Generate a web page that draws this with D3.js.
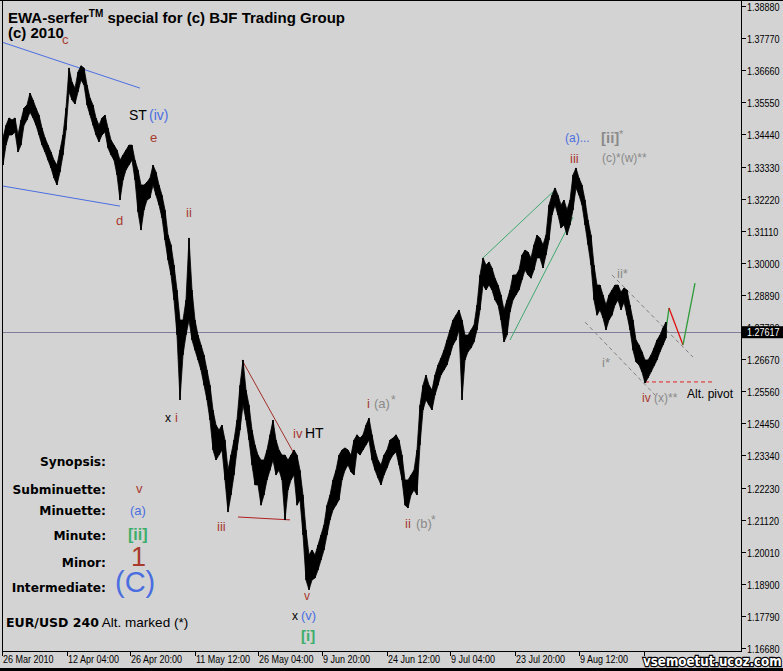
<!DOCTYPE html>
<html><head><meta charset="utf-8">
<script src="https://cdn.jsdelivr.net/npm/d3@7/dist/d3.min.js"></script>
<style>
html,body{margin:0;padding:0;background:#d3d3d3;}
svg{display:block;}
</style></head><body>
<svg id="c" width="783" height="671"></svg>
<script>
// ---------- DATA ----------
const priceTicks = [1.38880,1.37770,1.36660,1.35550,1.34440,1.33330,1.32220,1.31110,1.30000,1.28890,1.27780,1.26670,1.25560,1.24450,1.23340,1.22230,1.21120,1.20010,1.18900,1.17790,1.16680];
const timeTickIdx = [0,65,128,193,256,320,385,448,513,577,642];
const timeTickLabels = ["26 Mar 2010","12 Apr 04:00","26 Apr 20:00","11 May 12:00","26 May 04:00","9 Jun 20:00","24 Jun 12:00","9 Jul 04:00","23 Jul 20:00","9 Aug 12:00",""];
const currentPrice = 1.27617;
const barStep = 3; // one sampled bar every 3 bars
const highs = [1.3432,1.3476,1.3501,1.3494,1.3501,1.3442,1.3494,1.3535,1.3546,1.3587,1.3563,1.3535,1.3511,1.3466,1.3432,1.3407,1.3383,1.3355,1.3338,1.3390,1.3442,1.3535,1.3674,1.3625,1.3604,1.3660,1.3681,1.3674,1.3615,1.3570,1.3546,1.3501,1.3476,1.3501,1.3511,1.3466,1.3425,1.3407,1.3390,1.3355,1.3373,1.3390,1.3407,1.3407,1.3355,1.3321,1.3269,1.3269,1.3279,1.3293,1.3338,1.3314,1.3269,1.3234,1.3183,1.3096,1.3062,1.2992,1.2906,1.2802,1.2802,1.2871,1.3086,1.2906,1.2802,1.2750,1.2716,1.2681,1.2629,1.2577,1.2491,1.2439,1.2422,1.2439,1.2387,1.2283,1.2335,1.2387,1.2456,1.2577,1.2664,1.2560,1.2508,1.2422,1.2370,1.2335,1.2318,1.2318,1.2353,1.2405,1.2456,1.2387,1.2353,1.2335,1.2335,1.2318,1.2335,1.2353,1.2335,1.2283,1.2197,1.2076,1.1990,1.2007,1.1990,1.2024,1.2059,1.2093,1.2162,1.2197,1.2249,1.2283,1.2335,1.2353,1.2360,1.2353,1.2335,1.2387,1.2405,1.2394,1.2405,1.2439,1.2463,1.2405,1.2353,1.2318,1.2301,1.2335,1.2353,1.2387,1.2394,1.2405,1.2387,1.2335,1.2249,1.2249,1.2266,1.2283,1.2353,1.2508,1.2577,1.2612,1.2577,1.2560,1.2612,1.2647,1.2671,1.2698,1.2733,1.2768,1.2802,1.2819,1.2837,1.2802,1.2750,1.2750,1.2768,1.2785,1.2854,1.2958,1.3017,1.2992,1.3003,1.2982,1.2947,1.2923,1.2889,1.2837,1.2871,1.2906,1.2958,1.2958,1.2975,1.3027,1.3044,1.3037,1.3017,1.3062,1.3096,1.3086,1.3062,1.3096,1.3200,1.3234,1.3259,1.3234,1.3200,1.3217,1.3183,1.3217,1.3304,1.3328,1.3293,1.3269,1.3217,1.3148,1.3096,1.2992,1.2923,1.2923,1.2889,1.2854,1.2889,1.2906,1.2923,1.2923,1.2899,1.2913,1.2906,1.2854,1.2802,1.2733,1.2716,1.2692,1.2664,1.2664,1.2681,1.2705,1.2733,1.2750,1.2775,1.2795];
const lows = [1.3338,1.3407,1.3442,1.3442,1.3452,1.3383,1.3407,1.3476,1.3494,1.3521,1.3501,1.3476,1.3442,1.3407,1.3383,1.3355,1.3328,1.3293,1.3269,1.3314,1.3373,1.3459,1.3591,1.3563,1.3549,1.3591,1.3632,1.3615,1.3546,1.3511,1.3476,1.3442,1.3418,1.3442,1.3452,1.3397,1.3373,1.3355,1.3304,1.3217,1.3286,1.3321,1.3338,1.3355,1.3286,1.3176,1.3113,1.3183,1.3217,1.3224,1.3269,1.3234,1.3200,1.3155,1.3079,1.3010,1.2958,1.2871,1.2750,1.2526,1.2681,1.2750,1.2802,1.2733,1.2698,1.2664,1.2629,1.2577,1.2526,1.2456,1.2353,1.2318,1.2335,1.2353,1.2249,1.2138,1.2197,1.2266,1.2353,1.2422,1.2508,1.2456,1.2387,1.2301,1.2232,1.2232,1.2162,1.2197,1.2249,1.2283,1.2318,1.2266,1.2283,1.2249,1.2111,1.2214,1.2249,1.2266,1.2162,1.2180,1.2059,1.1903,1.1869,1.1903,1.1910,1.1938,1.1972,1.2007,1.2059,1.2111,1.2145,1.2162,1.2180,1.2249,1.2283,1.2301,1.2277,1.2266,1.2346,1.2335,1.2353,1.2370,1.2387,1.2318,1.2283,1.2256,1.2232,1.2266,1.2290,1.2318,1.2335,1.2346,1.2301,1.2249,1.2162,1.2152,1.2197,1.2214,1.2197,1.2370,1.2491,1.2526,1.2508,1.2491,1.2543,1.2577,1.2612,1.2629,1.2647,1.2681,1.2716,1.2733,1.2768,1.2526,1.2664,1.2692,1.2705,1.2726,1.2768,1.2837,1.2923,1.2906,1.2923,1.2906,1.2871,1.2854,1.2802,1.2726,1.2750,1.2830,1.2871,1.2889,1.2906,1.2941,1.2975,1.2958,1.2947,1.2975,1.3017,1.3017,1.2982,1.3027,1.3079,1.3165,1.3200,1.3165,1.3120,1.3131,1.3096,1.3131,1.3183,1.3259,1.3234,1.3200,1.3131,1.3062,1.2992,1.2871,1.2819,1.2837,1.2809,1.2768,1.2802,1.2819,1.2854,1.2871,1.2837,1.2864,1.2819,1.2768,1.2698,1.2657,1.2647,1.2622,1.2584,1.2602,1.2622,1.2643,1.2664,1.2692,1.2716,1.2740];

// trend / channel lines: [idx0, price0, idx1, price1]
const blueUpper = [0,1.3763,138,1.3604];
const blueLower = [0,1.3266,118,1.3196];
const htUpper = [240,1.2664,294,1.2328];
const htLower = [236,1.2121,288,1.2111];
const greenUpper = [481,1.3017,553,1.3252];
const greenLower = [508,1.2733,571,1.3158];
const dashUpper = [610,1.2958,691,1.2674];
const dashLower = [583,1.2795,655,1.2536];
const pivotLine = [643,1.2588,712,1.2588];
const projGreen1 = [664,1.2768,667,1.2844];
const projRed = [667,1.2844,681,1.2716];
const projGreen2 = [681,1.2716,693,1.2930];

// ---------- DRAW ----------
const svg = d3.select("#c");
const W = 783, H = 671;
const plotL = 2, plotR = 741, plotB = 651;
const x = d3.scaleLinear().domain([0,739]).range([2,741]);
const y = d3.scaleLinear().domain([1.1668,1.3888]).range([648,6]);

svg.append("rect").attr("width",W).attr("height",H).attr("fill","#d3d3d3");

// current price line
svg.append("line").attr("x1",plotL).attr("x2",plotR)
  .attr("y1",Math.round(y(currentPrice))+0.5).attr("y2",Math.round(y(currentPrice))+0.5)
  .attr("stroke","#7d7d9a").attr("stroke-width",1);

function seg(a, color, dash, w){
  svg.append("line").attr("x1",x(a[0])).attr("y1",y(a[1])).attr("x2",x(a[2])).attr("y2",y(a[3]))
    .attr("stroke",color).attr("stroke-width",w||1).attr("stroke-dasharray",dash||null);
}
seg(blueUpper,"#4a6ee0");
seg(blueLower,"#4a6ee0");
seg(htUpper,"#a0302a");
seg(htLower,"#b02020");
seg(greenUpper,"#3fa870");
seg(greenLower,"#3fa870");
seg(dashUpper,"#808080","4,3");
seg(dashLower,"#808080","4,3");
seg(pivotLine,"#e02020","4,3");
seg(projGreen1,"#2f9a3a",null,1.3);
seg(projRed,"#e01010",null,1.3);
seg(projGreen2,"#2f9a3a",null,1.3);

// price band (high-low bars)
const bars = highs.map((h,i)=>({i:1+i*barStep, h:h, l:lows[i]}));
const band = d3.area().x(d=>x(d.i)).y0(d=>y(d.l)).y1(d=>y(d.h)).curve(d3.curveLinear);
svg.append("path").datum(bars).attr("d",band).attr("fill","#000").attr("stroke","#000").attr("stroke-width",0.8);
svg.append("g").selectAll("line").data(bars).join("line")
  .attr("x1",d=>x(d.i)).attr("x2",d=>x(d.i))
  .attr("y1",d=>y(d.h)).attr("y2",d=>y(d.l))
  .attr("stroke","#000").attr("stroke-width",1.5);

// frame
svg.append("line").attr("x1",2.5).attr("x2",2.5).attr("y1",0).attr("y2",plotB).attr("stroke","#000");
svg.append("line").attr("x1",0).attr("x2",W).attr("y1",0.5).attr("y2",0.5).attr("stroke","#000");
svg.append("line").attr("x1",plotR+0.5).attr("x2",plotR+0.5).attr("y1",0).attr("y2",plotB).attr("stroke","#000");
svg.append("line").attr("x1",2).attr("x2",plotR+1).attr("y1",plotB+0.5).attr("y2",plotB+0.5).attr("stroke","#000");
svg.append("rect").attr("x",0).attr("y",668).attr("width",W).attr("height",3).attr("fill","#000");

const axisFont = "'Liberation Sans',Arial,sans-serif";
function axText(g, tx, ty, str, fill){
  return g.append("text").attr("transform",`translate(${tx},${ty}) scale(0.82,1)`).text(str)
    .attr("font-family",axisFont).attr("font-size",11).attr("fill",fill||"#000");
}
// y axis
const ya = svg.append("g");
priceTicks.forEach(p=>{
  const yy = Math.round(y(p))+0.5;
  ya.append("line").attr("x1",plotR+1).attr("x2",plotR+5).attr("y1",yy).attr("y2",yy).attr("stroke","#000");
  axText(ya, 747, yy+4.5, p.toFixed(5));
});
// current price box
const cy = y(currentPrice);
svg.append("rect").attr("x",742).attr("y",cy-5.5).attr("width",41).attr("height",12).attr("fill","#000");
axText(svg, 747, cy+4.5, currentPrice.toFixed(5), "#fff");

// x axis
const xa = svg.append("g");
timeTickIdx.forEach((t,i)=>{
  const xx = Math.round(x(t))+0.5;
  xa.append("line").attr("x1",xx).attr("x2",xx).attr("y1",plotB).attr("y2",plotB+5).attr("stroke","#000");
  axText(xa, xx+0.5, 663, timeTickLabels[i]);
});

// watermark
svg.append("text").attr("transform","translate(643,666) scale(0.85,1)").text("vsemoetut.ucoz.com")
  .attr("font-family","'DejaVu Sans',sans-serif").attr("font-weight","bold").attr("font-size",14)
  .attr("fill","#fff").attr("stroke","#000").attr("stroke-width",2.5).attr("paint-order","stroke");

// title
const tFont = "'Liberation Sans',Arial,sans-serif";
const title = svg.append("text").attr("x",8).attr("y",22.5)
  .attr("font-family",tFont).attr("font-weight","bold").attr("font-size",15).attr("fill","#000");
title.append("tspan").text("EWA-serfer");
title.append("tspan").text("TM").attr("font-size",10).attr("dy",-6);
title.append("tspan").text(" special for (c) BJF Trading Group").attr("dy",6);
svg.append("text").attr("x",8).attr("y",38).text("(c) 2010")
  .attr("font-family",tFont).attr("font-weight","bold").attr("font-size",15).attr("fill","#000");

// wave labels
const BR="#a83a2e", BL="#4a6ee0", GR="#3cae6a", GY="#8a8a8a", BK="#000";
const labels = [
  ["c",62,44,BR,13],["ST",129,120,BK,14],["(iv)",149,120,BL,14],["e",150,142,BR,13],
  ["d",116,225,BR,13],["ii",186,217,BR,13],["x",165,422,BK,12],["i",175,422,BR,13],
  ["iii",217,531,BR,13],["iv",293,438,BR,13],["HT",305,438,BK,14],["v",304,600,BR,12],
  ["x",292,620,BK,12],["(v)",301,620,BL,13],["[i]",301,641,GR,15,"bold"],
  ["i",367,408,BR,13],["(a)",374,408,GY,13],["*",391,404,GY,12],
  ["ii",405,528,BR,13],["(b)",416,528,GY,13],["*",431,524,GY,12],
  ["(a)...",565,142,BL,12],["[ii]",601,143,GY,15,"bold"],["*",619,138,GY,11],
  ["iii",570,163,BR,13],["(c)*(w)**",602,162,GY,12],
  ["ii*",617,278,GY,13],["i*",602,367,GY,13],
  ["iv",642,402,BR,12],["(x)**",654,402,GY,12],["Alt. pivot",687,398,BK,12]
];
labels.forEach(l=>{
  svg.append("text").attr("x",l[1]).attr("y",l[2]).text(l[0]).attr("fill",l[3])
    .attr("font-family",tFont).attr("font-size",l[4]).attr("font-weight",l[5]||"normal");
});

// synopsis
const synFont = "'DejaVu Sans',Verdana,sans-serif";
const syn = [["Synopsis:",466],["Subminuette:",494],["Minuette:",515],["Minute:",540],["Minor:",567],["Intermediate:",592]];
syn.forEach(s=>{
  svg.append("text").attr("x",106).attr("y",s[1]).attr("text-anchor","end").text(s[0])
    .attr("font-family",synFont).attr("font-weight","bold").attr("font-size",12.2).attr("fill","#000");
});
const synVals = [["v",136,493,BR,13,"normal"],["(a)",130,515,BL,13,"normal"],["[ii]",128,540,GR,16,"bold"],["1",131,566,BR,27,"normal"],["(C)",115,592,BL,29,"normal"]];
synVals.forEach(l=>{
  svg.append("text").attr("x",l[1]).attr("y",l[2]).text(l[0]).attr("fill",l[3])
    .attr("font-family",tFont).attr("font-size",l[4]).attr("font-weight",l[5]);
});
const foot = svg.append("text").attr("x",6).attr("y",627).attr("fill","#000");
foot.append("tspan").text("EUR/USD 240").attr("font-family",synFont).attr("font-weight","bold").attr("font-size",12.5);
foot.append("tspan").text(" Alt. marked (*)").attr("font-family",tFont).attr("font-size",13.5);
</script>
</body></html>
